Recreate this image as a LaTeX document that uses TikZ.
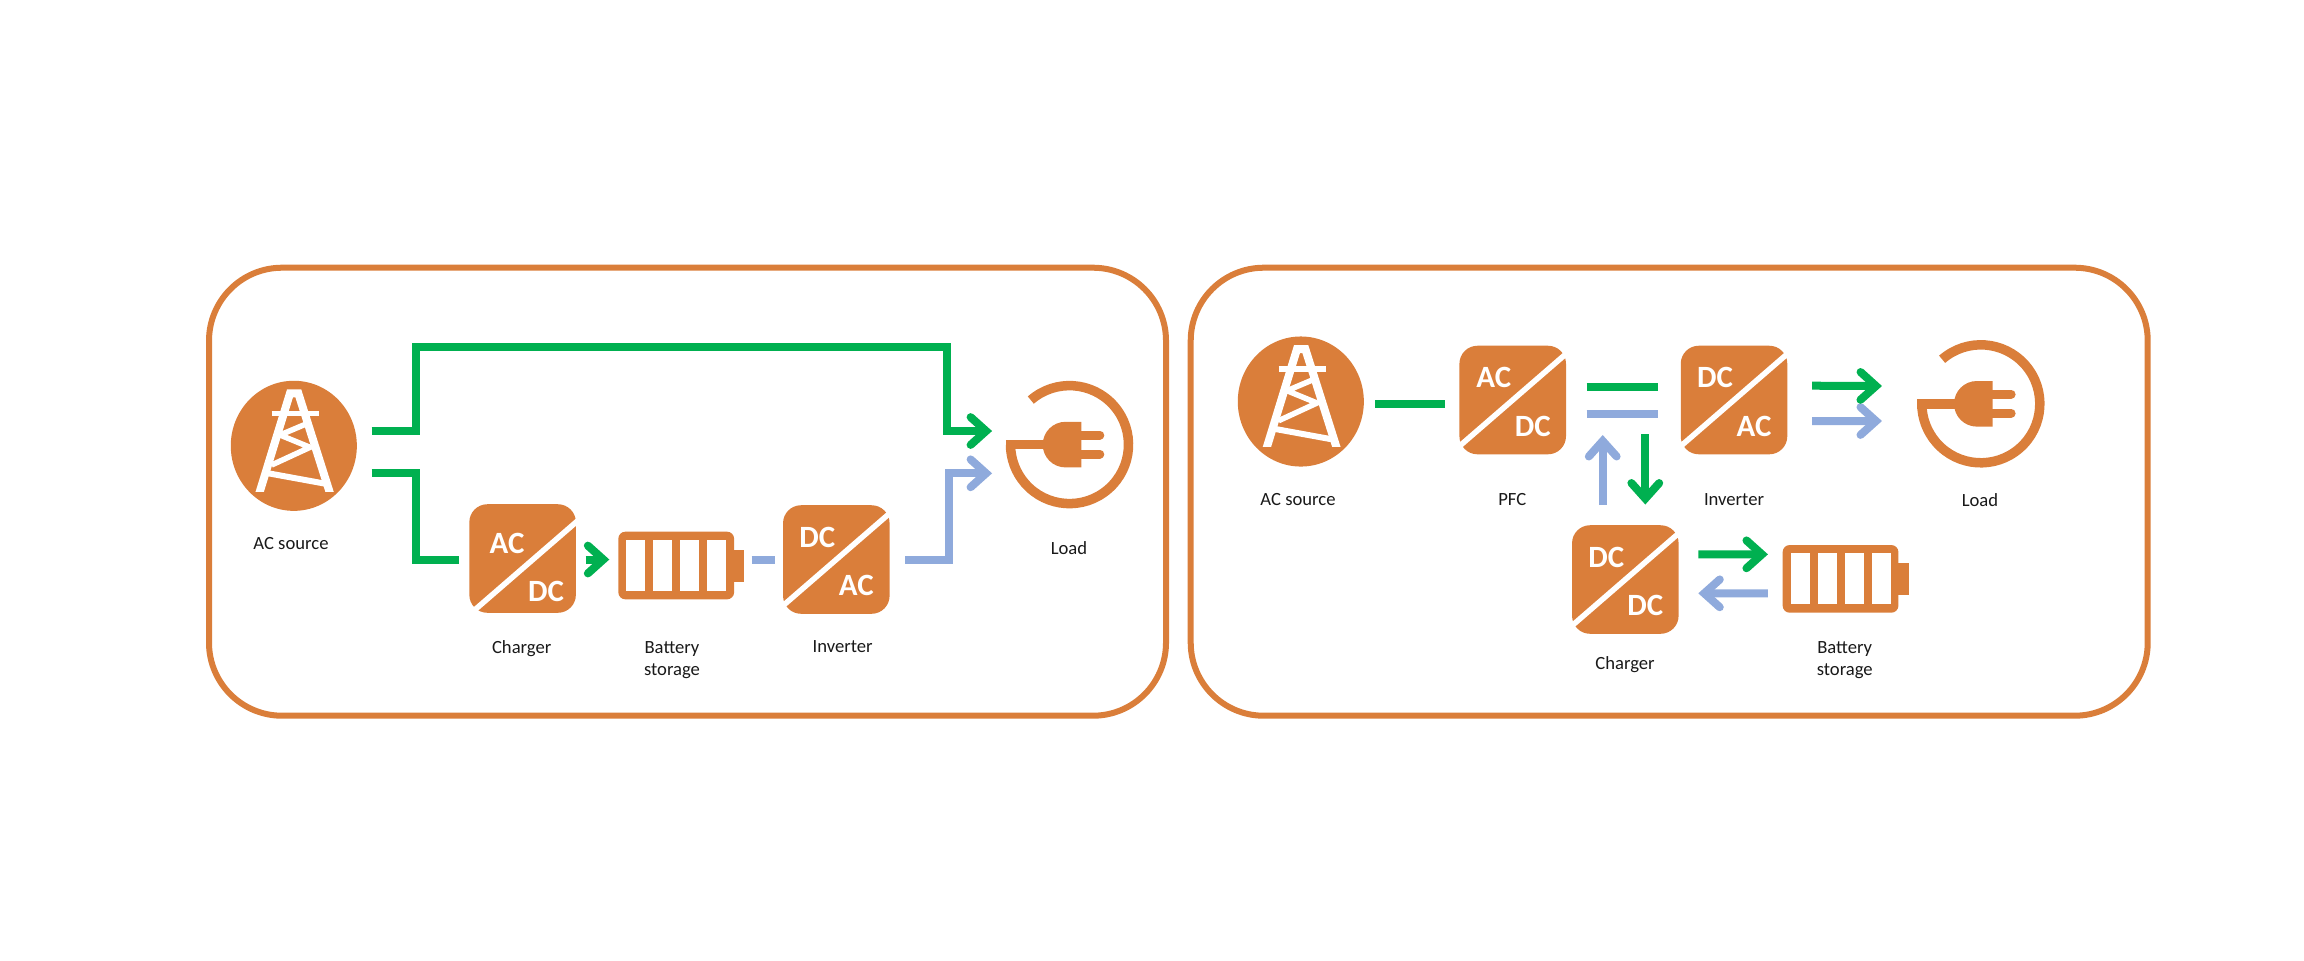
\documentclass[tikz,border=0pt]{standalone}
\usepackage{fontspec}
\setmainfont{Carlito}
\usetikzlibrary{arrows.meta,shapes.geometric}
\definecolor{panelorange}{RGB}{218,126,58}
\definecolor{flowgreen}{RGB}{0,176,80}
\definecolor{flowblue}{RGB}{143,170,220}
\tikzset{
  panel/.style={draw=panelorange, line width=0.06cm, rounded corners=0.73cm},
  lbl/.style={font=\fontsize{5.3}{6.3}\selectfont, text=black!90, align=center, inner sep=0},
  cvtext/.style={font=\fontsize{8.8}{9}\selectfont\bfseries, text=white, inner sep=0},
  tip/.style={-{Straight Barb[length=4.4pt, width=7.9pt, line cap=round, line join=miter]}},
  greenline/.style={draw=flowgreen, line width=0.08cm},
  blueline/.style={draw=flowblue, line width=0.08cm},
  whiteline/.style={draw=white, line width=0.055cm}
}
\newcommand{\tower}[2]{
  \node (#1) [ellipse, fill=panelorange, minimum width=1.26cm, minimum height=1.3cm, inner sep=0] at (#2) {};
  \begin{scope}[shift={(#2)}]
    \begin{scope}
      \clip (-60,-70) rectangle (60,45.2);
      \draw[whiteline, line width=0.08cm, line join=miter] (-35.3,50) -- (-3.8,-52.5) -- (4.5,-52.5) -- (37,50);
    \end{scope}
    \draw[whiteline] (-22.2,-32.5) -- (25.2,-32.5);
    \draw[whiteline, line join=miter] (12.2,-21.8) -- (-13.8,-10.8) -- (16.2,1.5) -- (-22.2,19.2);
    \draw[whiteline, line width=0.06cm] (-27,27.2) -- (31,37.8);
  \end{scope}
}
\newcommand{\converter}[5]{
  \node (#1) [fill=panelorange, rounded corners=0.18cm, minimum width=1.065cm, minimum height=1.085cm, inner sep=0] at (#2) {};
  \begin{scope}[shift={(#3)}]
    \draw[whiteline] (56,-48.5) -- (-56,48.5);
    \node (#1top) [cvtext] at (-19,-22.5) {#4};
    \node (#1bot) [cvtext] at (20,26) {#5};
  \end{scope}
}
\newcommand{\battery}[2]{
  \node (#1) [fill=panelorange, rounded corners=0.07cm, minimum width=1.157cm, minimum height=0.676cm, inner sep=0] at (#2) {};
  \begin{scope}[shift={(#2)}]
    \fill[panelorange] (52,-16) rectangle (68,16);
    \foreach \cx in {-40.5,-13.5,13.5,40.5}
      \fill[white] (\cx-9.5,-25.4) rectangle (\cx+9.5,25.4);
  \end{scope}
}
\newcommand{\load}[2]{
  \node (#1) [circle, minimum size=1.26cm, inner sep=0] at (#2) {};
  \begin{scope}[shift={(#2)}]
    \draw[panelorange, line width=0.095cm] (-131:59) arc (-131:180:59);
    \draw[panelorange, line width=0.095cm] (-63.7,0) -- (-10,0);
    \fill[panelorange] (11.8,-22.8) -- (-4,-22.8) arc (-90:-270:22.8) -- (11.8,22.8) -- cycle;
    \draw[panelorange, line width=0.09cm, line cap=round] (11.8,-9.6) -- (30.3,-9.6);
    \draw[panelorange, line width=0.09cm, line cap=round] (11.8,9.4) -- (30.3,9.4);
  \end{scope}
}

\begin{document}
\begin{tikzpicture}[x=0.01cm, y=-0.01cm]
    \useasboundingbox (0,0) rectangle (2304,960);
    \draw[panel] (209,267.7) rectangle (1166,715.7);
    \draw[panel] (1190.7,267.7) rectangle (2147.7,715.7);

    \tower{srca}{293.8,445.8}
    \converter{chga}{522.6,558.5}{526,565.5}{AC}{DC}
    \battery{bata}{676.2,565.5}
    \converter{inva}{836.3,559.5}{836.3,559.5}{DC}{AC}
    \load{loada}{1069.5,444.6}

    \node (srcatxt) [lbl] at (291,544) {AC source};
    \node (chgatxt) [lbl] at (521.7,648.5) {Charger};
    \node (batatxt) [lbl] at (672,660) {Battery\\storage};
    \node (invatxt) [lbl] at (842.7,647) {Inverter};
    \node (loadatxt) [lbl] at (1069,548) {Load};

    \coordinate (tl) at (416,347);
    \coordinate (tr) at (947,347);
    \coordinate (ml) at (415.7,560);
    \coordinate (br) at (949,473.3);

    \draw[greenline, tip] ([shift={(14,-14.8)}]srca.east) -| (tl) -- (tr) |- ([shift={(-13.7,-13.6)}]loada.west);
    \draw[greenline] ([shift={(14,27.5)}]srca.east) -| (ml) -- ([shift={(-9.3,0)}]chga.west |- ml);
    \draw[greenline, tip] ([shift={(9,0)}]chga.east |- inva.west) -- ([shift={(-8.3,0)}]bata.west |- inva.west);
    \draw[blueline] ([shift={(16.7,0)}]bata.east |- inva.west) -- ([shift={(-7,0)}]inva.west);
    \draw[blueline, tip] ([shift={(15,0)}]inva.east) -| (br) -- ([shift={(-13.7,28.7)}]loada.west);

    \tower{srcb}{1300.8,401.5}
    \converter{pfcb}{1512.7,400}{1512.7,400}{AC}{DC}
    \converter{invb}{1734,400}{1734,400}{DC}{AC}
    \converter{chgb}{1625.3,579.5}{1625.3,579.5}{DC}{DC}
    \battery{batb}{1840.5,578.85}
    \load{loadb}{1980.8,403.8}

    \node (srcbtxt) [lbl] at (1298,500) {AC source};
    \node (pfcbtxt) [lbl] at (1512.3,500) {PFC};
    \node (invbtxt) [lbl] at (1734,500) {Inverter};
    \node (loadbtxt) [lbl] at (1980,500) {Load};
    \node (chgbtxt) [lbl] at (1625,664.5) {Charger};
    \node (batbtxt) [lbl] at (1844.7,660) {Battery\\storage};

    \coordinate (gbl) at (1586.7,387.3);
    \coordinate (gbr) at (1658.3,387.3);
    \coordinate (bbl) at (1586.7,414);
    \coordinate (bbr) at (1658.3,414);
    \coordinate (up) at (1602.7,435);
    \coordinate (dn) at (1645.3,434.3);

    \draw[greenline] ([shift={(10.5,2.8)}]srcb.east) -- ([shift={(-13.4,4.3)}]pfcb.west);
    \draw[greenline] (gbl) -- (gbr);
    \draw[blueline] (bbl) -- (bbr);
    \draw[blueline, tip] ([shift={(0,-19.5)}]up |- chgb.north) -- (up);
    \draw[greenline, tip] (dn) -- ([shift={(0,-20)}]dn |- chgb.north);
    \draw[blueline, tip] ([shift={(24,21)}]invb.east) -- ([shift={(-35.1,17.2)}]loadb.west);
    \draw[greenline, tip] ([shift={(24,-14.3)}]invb.east) -- ([shift={(-35.1,-17.8)}]loadb.west);
    \draw[greenline, tip] ([shift={(19,-25.2)}]chgb.east) -- ([shift={(-14,-24.5)}]batb.west);
    \draw[blueline, tip] ([shift={(-14,14.5)}]batb.west) -- ([shift={(19,13.8)}]chgb.east);
\end{tikzpicture}
\end{document}
